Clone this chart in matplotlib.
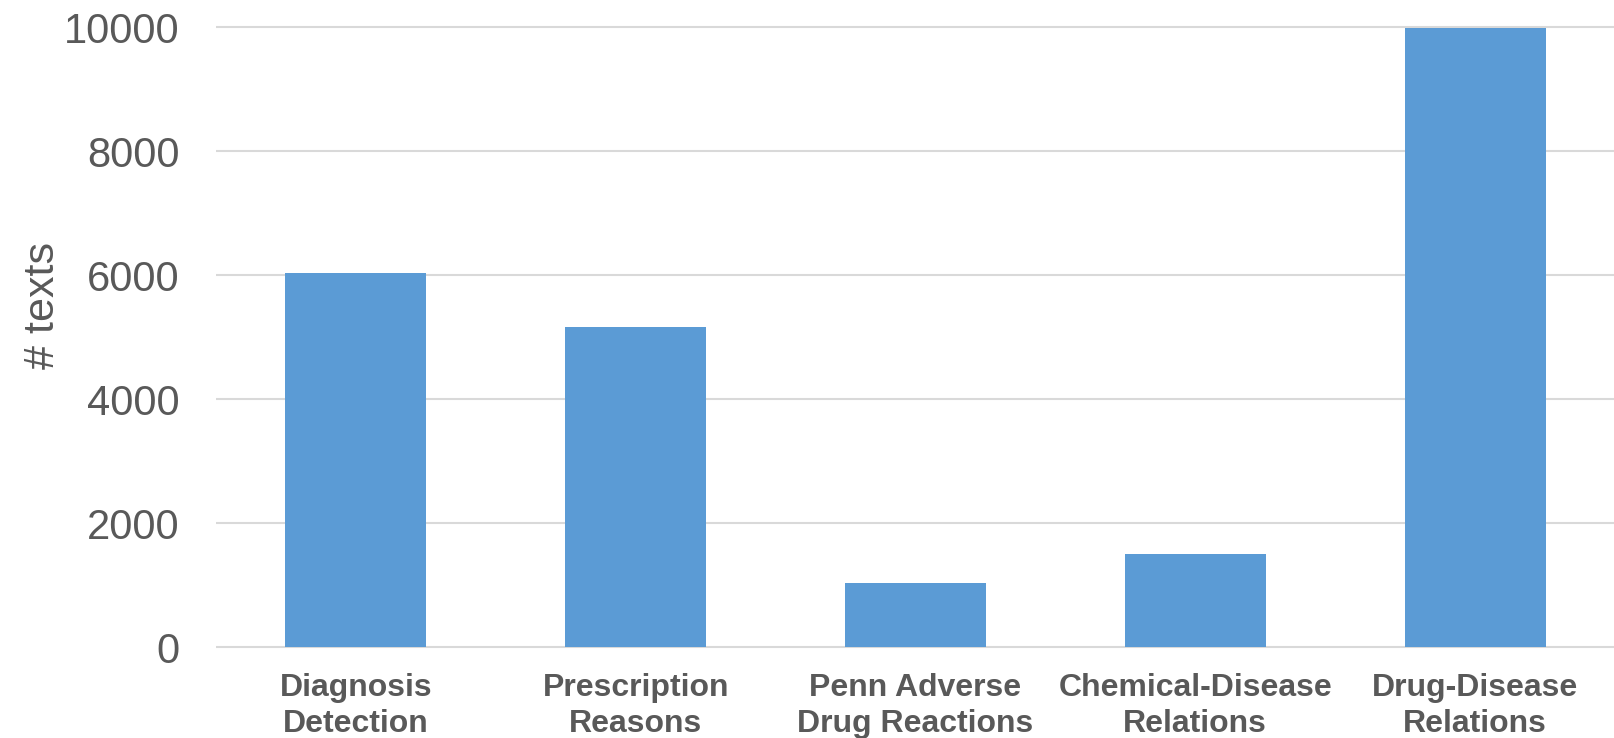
import matplotlib.pyplot as plt
import numpy as np

plt.rcParams['font.family'] = ['Liberation Sans', 'DejaVu Sans']

categories = ["Diagnosis\nDetection", "Prescription\nReasons", "Penn Adverse\nDrug Reactions",
              "Chemical-Disease\nRelations", "Drug-Disease\nRelations"]
counts = [6030, 5170, 1030, 1505, 9990]
yticks = [0, 2000, 4000, 6000, 8000, 10000]

text_col = '#595959'
bar_col = '#5B9BD5'
grid_col = '#D9D9D9'

fig = plt.figure(figsize=(16.15, 7.38), dpi=100)
ax = fig.add_axes([0.1337, 0.1191, 0.8663, 0.9672 - 0.1191])

x = np.arange(len(categories))
ax.bar(x, counts, width=0.504, color=bar_col, zorder=3)

ax.set_xlim(-0.5, 4.5)
ax.set_ylim(-50, 10050)
ax.set_yticks(yticks)
ax.set_yticklabels([str(t) for t in yticks])
ax.set_xticks(x)
ax.set_xticklabels(categories, fontsize=23, fontweight='bold', color=text_col, linespacing=1.25)

ax.tick_params(axis='y', length=0, pad=26, labelsize=30, labelcolor=text_col)
ax.tick_params(axis='x', length=0, pad=16.5)
ax.grid(axis='y', color=grid_col, linewidth=1.5, zorder=0)
for s in ax.spines.values():
    s.set_visible(False)

ax.set_ylabel("# texts", fontsize=31, color=text_col)
ax.yaxis.label.set_va('center')
ax.yaxis.set_label_coords(-0.1235, 0.55)

plt.savefig('out.png')
